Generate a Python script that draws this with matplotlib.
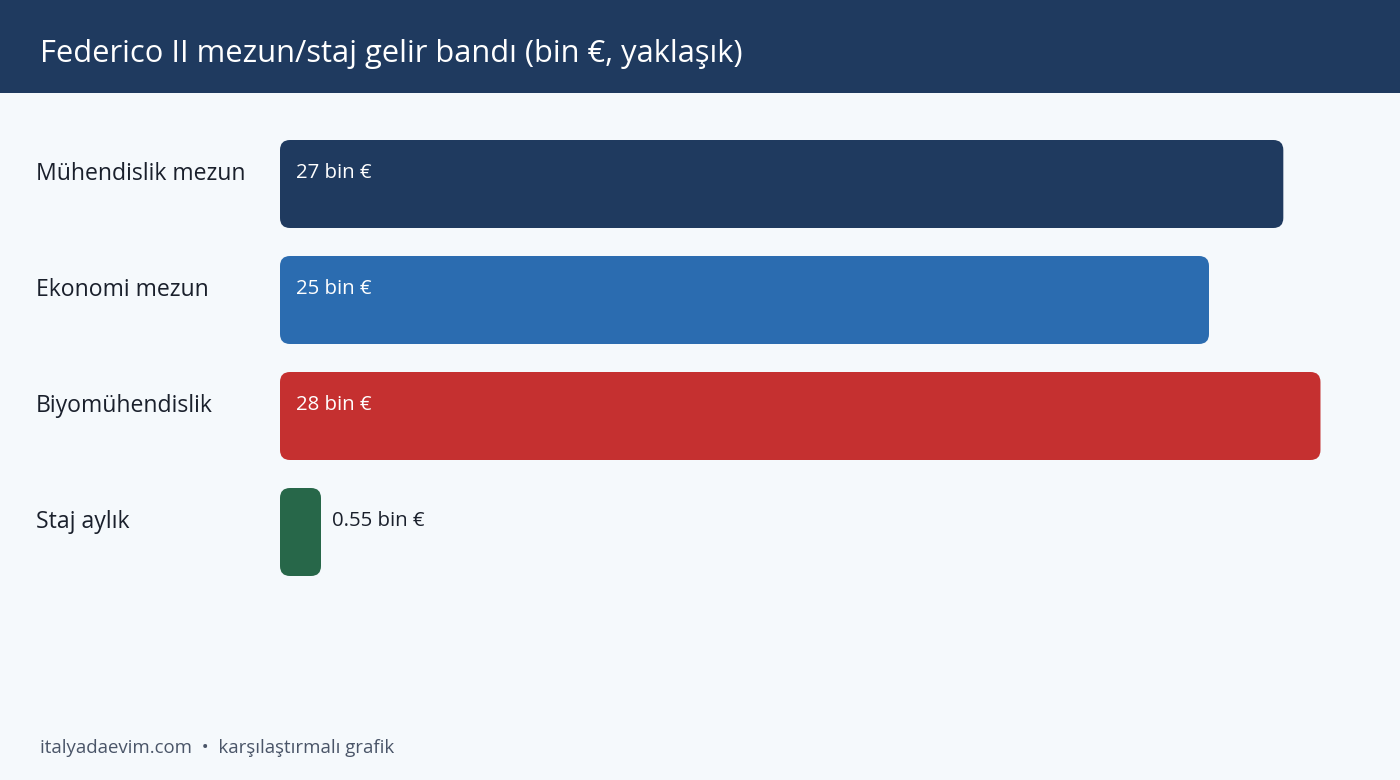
import matplotlib
matplotlib.use("Agg")
import matplotlib.pyplot as plt
from matplotlib.patches import FancyBboxPatch, Rectangle

# Veriler (bin €)
kategoriler = ["Mühendislik mezun", "Ekonomi mezun", "Biyomühendislik", "Staj aylık"]
degerler = [27, 25, 28, 0.55]
etiketler = ["27 bin €", "25 bin €", "28 bin €", "0.55 bin €"]
renkler = ["#1f3a5f", "#2b6cb0", "#c53030", "#276749"]

plt.rcParams['font.family'] = ['Open Sans', 'Noto Sans', 'DejaVu Sans']

W, H = 1400, 780
fig = plt.figure(figsize=(W / 100, H / 100), dpi=100)
fig.patch.set_facecolor("#f5f9fc")

# Başlık bandı
fig.patches.append(Rectangle((0, 1 - 93 / H), 1, 93 / H, transform=fig.transFigure,
                             facecolor="#1f3a5f", edgecolor="none", zorder=0))
fig.text(40 / W, 1 - 54 / H, "Federico II mezun/staj gelir bandı (bin €, yaklaşık)",
         color="white", fontsize=22.2, va="center", ha="left")

# Çubuk alanı
px_per_unit = 37.16
ax_left, ax_width = 280, 1100
ax_top, ax_h = 126, 4 * 116
ax = fig.add_axes([ax_left / W, 1 - (ax_top + ax_h) / H, ax_width / W, ax_h / H])
ax.set_facecolor("none")
ax.set_xlim(0, ax_width / px_per_unit)
ax.set_ylim(len(kategoriler) - 0.5, -0.5)
ax.axis("off")

bar_h = 88 / 116
min_w = 41 / px_per_unit  # en küçük görünür genişlik
r_x = 10 / px_per_unit
r_y = 10 / 116
label_dy = -11.5 / 116

for i, (kat, val, lab, col) in enumerate(zip(kategoriler, degerler, etiketler, renkler)):
    w = max(val, min_w)
    box = FancyBboxPatch((0, i - bar_h / 2), w, bar_h,
                         boxstyle=f"round,pad=0,rounding_size={r_x}",
                         mutation_aspect=r_y / r_x,
                         facecolor=col, edgecolor="none")
    ax.add_patch(box)
    if val > 3:
        ax.text(16 / px_per_unit, i + label_dy, lab, color="white", fontsize=14.7,
                va="center", ha="left")
    else:
        ax.text(w + 11 / px_per_unit, i + label_dy, lab, color="#1a202c", fontsize=14.7,
                va="center", ha="left")
    fig.text(36 / W, 1 - (ax_top + 58 + 116 * i - 10) / H, kat, color="#1a202c",
             fontsize=16.6, va="center", ha="left")

# Alt bilgi
fig.text(40 / W, 1 - 748 / H, "italyadaevim.com  •  karşılaştırmalı grafik",
         color="#4a5568", fontsize=13.4, va="center", ha="left")

fig.savefig("out.png", dpi=100, facecolor=fig.get_facecolor())
